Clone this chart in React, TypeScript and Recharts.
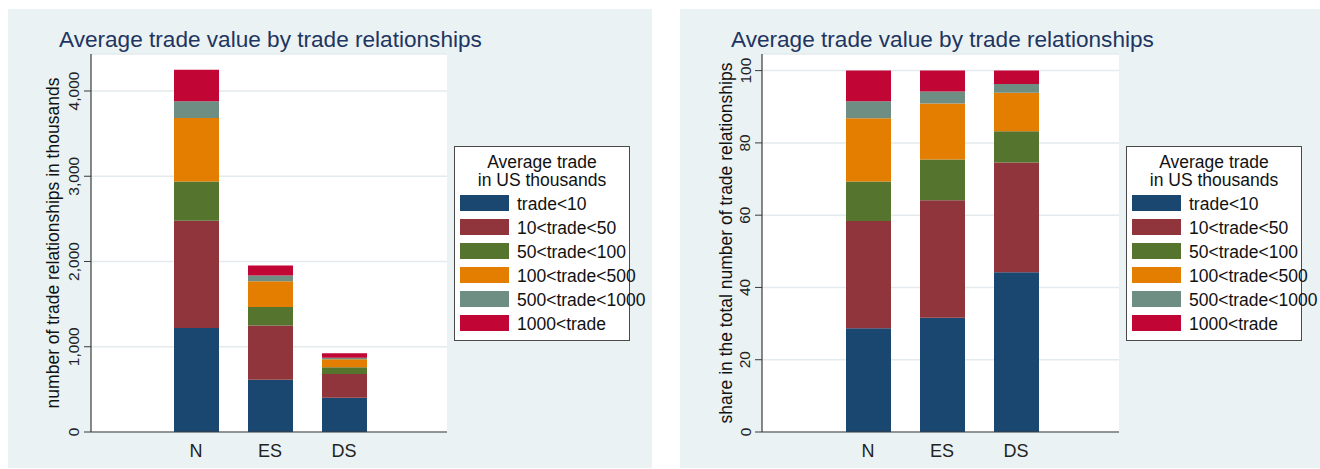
import React from "react";
import { Bar, BarChart, CartesianGrid, XAxis, YAxis } from "recharts";

const categories = ["N", "ES", "DS"];
const classNames = ["trade<10", "10<trade<50", "50<trade<100", "100<trade<500", "500<trade<1000", "1000<trade"];
const classColors = ["#1a476f", "#90353b", "#55752f", "#e37e00", "#6e8e84", "#c10534"];

// number of trade relationships, in thousands (N, ES, DS)
const countLt10 = [1221, 614, 403];
const count10to50 = [1256, 634, 278];
const count50to100 = [461, 219, 78];
const count100to500 = [744, 302, 94];
const count500to1000 = [199, 66, 19];
const countGt1000 = [368, 117, 51];

// share in the total number of trade relationships, percent (N, ES, DS)
const shareLt10 = [28.7, 31.6, 44.2];
const share10to50 = [29.7, 32.5, 30.4];
const share50to100 = [10.9, 11.3, 8.6];
const share100to500 = [17.5, 15.5, 10.7];
const share500to1000 = [4.7, 3.3, 2.4];
const shareGt1000 = [8.5, 5.8, 3.7];

const countTicks = [0, 1000, 2000, 3000, 4000];
const shareTicks = [0, 20, 40, 60, 80, 100];

const titleText = "Average trade value by trade relationships";
const legendTitle = ["Average trade", "in US thousands"];

const font = "'Liberation Sans', Arial, Helvetica, sans-serif";
const panelBg = "#eaf2f3";
const panelH = 459;
const plotTop = 45;
const plotBottom = 423;
const plotRight = 439;

function buildRows(series: number[][]) {
  return categories.map((cat, i) => {
    const row: Record<string, string | number> = { cat };
    series.forEach((s, k) => {
      row["s" + k] = s[i];
    });
    return row;
  });
}

const countRows = buildRows([countLt10, count10to50, count50to100, count100to500, count500to1000, countGt1000]);
const shareRows = buildRows([shareLt10, share10to50, share50to100, share100to500, share500to1000, shareGt1000]);

function Overlay({ width }: { width: number }) {
  const boxX = 446;
  const boxY = 137;
  return (
    <svg width={width} height={panelH} style={{ position: "absolute", left: 0, top: 0, pointerEvents: "none" }}>
      <text x={51} y={38} fontFamily={font} fontSize={22.6} fill="#1f3561">
        {titleText}
      </text>
      <g transform={`translate(${boxX},${boxY})`}>
        <rect x={0.5} y={0.5} width={175} height={194} fill="#fff" stroke="#4a4a4a" strokeWidth={1} />
        {legendTitle.map((t, i) => (
          <text key={t} x={88} y={22 + i * 17.5} textAnchor="middle" fontFamily={font} fontSize={17.5} fill="#111">
            {t}
          </text>
        ))}
        {classNames.map((name, i) => (
          <g key={name}>
            <rect x={6} y={49 + i * 24} width={49} height={16} fill={classColors[i]} />
            <text x={63} y={64 + i * 24} fontFamily={font} fontSize={17.5} fill="#111">
              {name}
            </text>
          </g>
        ))}
      </g>
    </svg>
  );
}

interface PanelProps {
  left: number;
  width: number;
  rows: Record<string, string | number>[];
  domainMax: number;
  ticks: number[];
  yLabel: string;
  axisX: number;
  yLabelX: number;
  padLeft: number;
  padRight: number;
}

function Panel({ left, width, rows, domainMax, ticks, yLabel, axisX, yLabelX, padLeft, padRight }: PanelProps) {
  const yAxisWidth = 70;
  const tickLabelX = 65;
  const midY = (plotTop + plotBottom) / 2;

  const yTick = (p: any) => (
    <text
      x={tickLabelX}
      y={p.y}
      dy="0.355em"
      textAnchor="middle"
      transform={`rotate(-90 ${tickLabelX} ${p.y})`}
      fontFamily={font}
      fontSize={15.5}
      fill="#222"
    >
      {Number(p.payload.value).toLocaleString("en-US")}
    </text>
  );

  const xTick = (p: any) => (
    <text x={p.x} y={p.y} dy={23} textAnchor="middle" fontFamily={font} fontSize={18} fill="#222">
      {p.payload.value}
    </text>
  );

  const yLabelEl = (
    <text
      x={yLabelX}
      y={midY}
      dy="0.355em"
      textAnchor="middle"
      transform={`rotate(-90 ${yLabelX} ${midY})`}
      fontFamily={font}
      fontSize={17.5}
      fill="#111"
    >
      {yLabel}
    </text>
  );

  return (
    <div style={{ position: "absolute", left, top: 9, width, height: panelH, background: panelBg }}>
      <BarChart
        width={width}
        height={panelH}
        data={rows}
        margin={{ top: plotTop, right: width - plotRight, bottom: panelH - plotBottom - 30, left: axisX - yAxisWidth }}
      >
        <CartesianGrid vertical={false} fill="#ffffff" fillOpacity={1} stroke="#e3ebee" strokeWidth={1.5} />
        <XAxis
          dataKey="cat"
          height={30}
          tickLine={false}
          tickSize={0}
          axisLine={{ stroke: "#3a3a3a", strokeWidth: 1.2 }}
          padding={{ left: padLeft, right: padRight }}
          tick={xTick}
        />
        <YAxis
          type="number"
          width={yAxisWidth}
          domain={[0, domainMax]}
          ticks={ticks}
          allowDataOverflow
          tickSize={7}
          tickLine={{ stroke: "#3a3a3a" }}
          axisLine={{ stroke: "#3a3a3a", strokeWidth: 1.2 }}
          tick={yTick}
          label={() => yLabelEl}
        />
        {classNames.map((name, k) => (
          <Bar
            key={name}
            dataKey={"s" + k}
            name={name}
            stackId="a"
            fill={classColors[k]}
            barSize={45}
            isAnimationActive={false}
          />
        ))}
      </BarChart>
      <Overlay width={width} />
    </div>
  );
}

export default function App() {
  return (
    <div style={{ position: "absolute", left: 0, top: 0, width: 1320, height: 469, overflow: "hidden", background: "#fff" }}>
      <Panel
        left={8}
        width={644}
        rows={countRows}
        domainMax={4434}
        ticks={countTicks}
        yLabel="number of trade relationships in thousands"
        axisX={83}
        yLabelX={45}
        padLeft={68}
        padRight={66}
      />
      <Panel
        left={680}
        width={640}
        rows={shareRows}
        domainMax={104.6}
        ticks={shareTicks}
        yLabel="share in the total number of  trade relationships"
        axisX={82}
        yLabelX={46}
        padLeft={69}
        padRight={66}
      />
    </div>
  );
}
